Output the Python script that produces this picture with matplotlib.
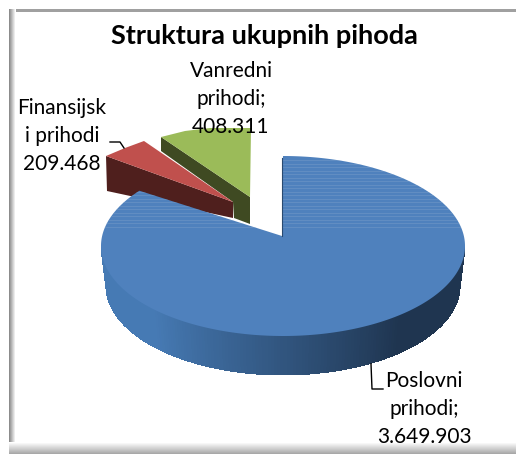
import numpy as np
import matplotlib
matplotlib.use('Agg')
import matplotlib.pyplot as plt
from matplotlib.colors import to_rgb
from matplotlib.patches import Polygon, Rectangle

plt.rcParams['font.family'] = ['Lato', 'DejaVu Sans']

# --- data ---
categories = ['Poslovni prihodi', 'Finansijski prihodi', 'Vanredni prihodi']
values = [3649903, 209468, 408311]
label_lines = ['Poslovni\nprihodi;\n3.649.903', 'Finansijsk\ni prihodi\n209.468', 'Vanredni\nprihodi;\n408.311']
title = 'Struktura ukupnih pihoda'

# --- colours ---
TOP_COLORS = ['#4f81bd', '#c0504d', '#9bbb59']
SIDE_COLORS = ['#1f3550', '#4f1f1d', '#3f4a22']


def slice_angles():
    # clockwise from 12 o'clock, in degrees
    fractions = np.array(values) / sum(values)
    ends = np.cumsum(fractions) * 360
    starts = np.concatenate([[0], ends[:-1]])
    return starts, ends


def arc(cx, cy, rx, ry, a0, a1, n=200):
    t = np.radians(np.linspace(a0, a1, n))
    return np.column_stack([cx + rx * np.sin(t), cy - ry * np.cos(t)])


def blend(c0, c1, mix):
    return (1 - mix) * np.array(to_rgb(c0)) + mix * np.array(to_rgb(c1))


fig = plt.figure(figsize=(5.16, 4.57), dpi=100)
ax = fig.add_axes([0, 0, 1, 1])
ax.set_xlim(0, 516)
ax.set_ylim(457, 0)
ax.axis('off')

# chart frame: grey top and left edge, soft shadow at left and bottom
ax.add_patch(Rectangle((9, 9), 507, 2.5, fc='#a0a0a0', ec='none', zorder=0.5))
for i in range(7):
    ax.add_patch(Rectangle((9 + i, 9), 1.2, 444, fc=blend('#8c8c8c', '#ffffff', i / 6), ec='none', zorder=0.5))
for i in range(12):
    ax.add_patch(Rectangle((9, 442 + i), 507, 1.2, fc=blend('#ffffff', '#a8a8a8', i / 11), ec='none', zorder=0.6))

starts, ends = slice_angles()

# big slice: side wall first
cx, cy, rx, ry = 283, 246, 182, 90
low_cx, low_cy, low_rx, low_ry = 283, 286, 177, 89
angles = np.linspace(90, 270, 181)
for a0, a1 in zip(angles[:-1], angles[1:]):
    seg_top = arc(cx, cy, rx, ry, a0, a1 + 0.5, 2)
    seg_low = arc(low_cx, low_cy, low_rx, low_ry, a1 + 0.5, a0, 2)
    mix = np.clip((a0 - 140) / 85, 0, 1)
    c = blend('#1f3550', '#467ab4', mix)
    ax.add_patch(Polygon(np.vstack([seg_top, seg_low]), fc=c, ec='none', antialiased=False, zorder=3))

# small slices, pulled out of the pie
# finansijski
red_arc = np.array([[106, 156], [125, 148], [144, 141]])
red_apex = np.array([233, 202])
red_low = red_arc + [1, 35]
red_apex_low = red_apex + [0, 16]
ax.add_patch(Polygon(np.vstack([red_arc[0], red_apex, red_apex_low, red_low[0]]),
                     fc=SIDE_COLORS[1], ec='none', zorder=1))
ax.add_patch(Polygon(np.vstack([red_arc, red_apex]), fc=TOP_COLORS[1], ec='none', zorder=2))

# vanredni
green_arc = np.array([[161, 137], [185, 131], [210, 128], [251, 128]])
green_apex = np.array([250, 197])
ax.add_patch(Polygon(np.array([green_arc[0], green_apex, green_apex + [0, 27], [234, 218], [233, 202], [161, 151]]),
                     fc=SIDE_COLORS[2], ec='none', zorder=1.5))
ax.add_patch(Polygon(np.vstack([green_arc, green_apex]), fc=TOP_COLORS[2], ec='none', zorder=2))

# big slice top
apex = (282, 236)
top_pts = np.vstack([arc(cx, cy, rx, ry, starts[0], ends[0], 400), apex])
top = Polygon(top_pts, fc=TOP_COLORS[0], ec='none', zorder=4)
ax.add_patch(top)

# faint streaks in the upper part of the blue
for y in np.arange(160, 229, 3.5):
    ln = ax.plot([95, 470], [y, y], color='#7fa3cc', lw=0.6, alpha=0.45, zorder=5)[0]
    ln.set_clip_path(top)
ax.plot([282, 282], [158, 236], color='#2a4a70', lw=0.8, zorder=5)

# leader lines
ax.plot([110, 120, 124], [142, 142, 148], color='black', lw=1, zorder=6)
ax.plot([371, 372, 383], [364, 389, 389], color='black', lw=1, zorder=6)

# texts
ax.text(264, 36, title, ha='center', va='center', fontsize=19.5, fontweight='bold', color='black', zorder=7)
ax.text(231, 99, label_lines[2], ha='center', va='center', fontsize=15, linespacing=1.52, color='black', zorder=7)
ax.text(62, 136, label_lines[1], ha='center', va='center', fontsize=15, linespacing=1.52, color='black', zorder=7)
ax.text(424, 409, label_lines[0], ha='center', va='center', fontsize=15, linespacing=1.52, color='black', zorder=7)

fig.savefig('out.png', dpi=100)
